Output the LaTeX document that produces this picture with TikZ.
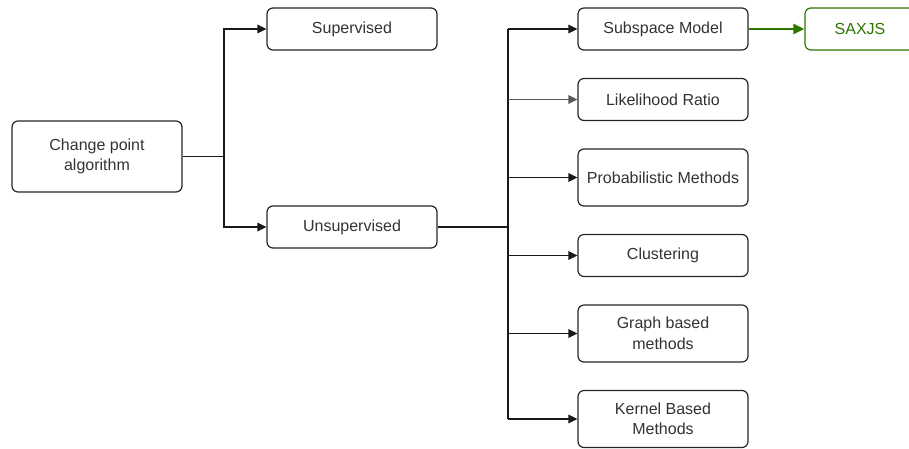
\documentclass[tikz,border=0pt]{standalone}
\usepackage{fontspec}
\setmainfont{Liberation Sans}
\usetikzlibrary{arrows.meta}
\definecolor{dgreen}{HTML}{2D7600}
\definecolor{txt}{HTML}{333333}
\tikzset{
  box/.style={draw=black!85, line width=1.2pt, rounded corners=6pt, fill=white,
    minimum width=170pt, inner sep=0pt, text=txt, align=center,
    font=\fontsize{16}{20.5}\selectfont},
  conn/.style={line width=1.3pt, draw=black!90, -{Triangle[length=9pt,width=8.5pt]}},
  seg/.style={line width=1.3pt, draw=black!90},
}
\begin{document}
\begin{tikzpicture}[x=1pt,y=-1pt]
\useasboundingbox (0,0) rectangle (909,448);
\clip (0,0) rectangle (909,448);
% nodes
\node[box, minimum height=71pt] (cp) at (97,156.5) {Change point\\algorithm};
\node[box, minimum height=42pt] (sup) at (352,29) {Supervised};
\node[box, minimum height=42pt] (uns) at (352,227) {Unsupervised};
\node[box, minimum height=42pt] (sub) at (663,29) {Subspace Model};
\node[box, minimum height=42pt, minimum width=110pt, draw=dgreen, text=dgreen] (sax) at (860,29) {SAXJS};
\node[box, minimum height=42pt] (lik) at (663,99.5) {Likelihood Ratio};
\node[box, minimum height=57pt] (prob) at (663,177.5) {Probabilistic Methods};
\node[box, minimum height=42pt] (clu) at (663,255.5) {Clustering};
\node[box, minimum height=57pt] (gra) at (663,333.5) {Graph based\\methods};
\node[box, minimum height=57pt] (ker) at (663,419) {Kernel Based\\Methods};
% trunk coordinates
\coordinate (t1) at (224,156.5);
\coordinate (t1a) at (224,29);
\coordinate (t1b) at (224,227);
\coordinate (t2) at (508,227);
\coordinate (t2a) at (508,29);
\coordinate (t2b) at (508,99.5);
\coordinate (t2c) at (508,177.5);
\coordinate (t2d) at (508,255.5);
\coordinate (t2e) at (508,333.5);
\coordinate (t2f) at (508,419);
% first level
\draw[seg] (cp.east) -- (t1);
\draw[seg, line join=miter] (sup.west) ++(-9pt,0) -- (t1a) -- (t1b) -- ++(9pt,0);
\draw[conn] (t1a) -- (sup.west);
\draw[conn] (t1b) -- (uns.west);
% second level
\draw[seg] (uns.east) -- (t2);
\draw[seg] (t2a) -- (t2f);
\draw[conn] (t2a) -- (sub.west);
\draw[conn, draw=black!65] (t2b) -- (lik.west);
\draw[conn] (t2c) -- (prob.west);
\draw[conn] (t2d) -- (clu.west);
\draw[conn] (t2e) -- (gra.west);
\draw[conn] (t2f) -- (ker.west);
% green
\draw[line width=2.4pt, draw=dgreen, -{Triangle[length=11pt,width=10pt]}] (sub.east) -- (sax.west);
\end{tikzpicture}
\end{document}
